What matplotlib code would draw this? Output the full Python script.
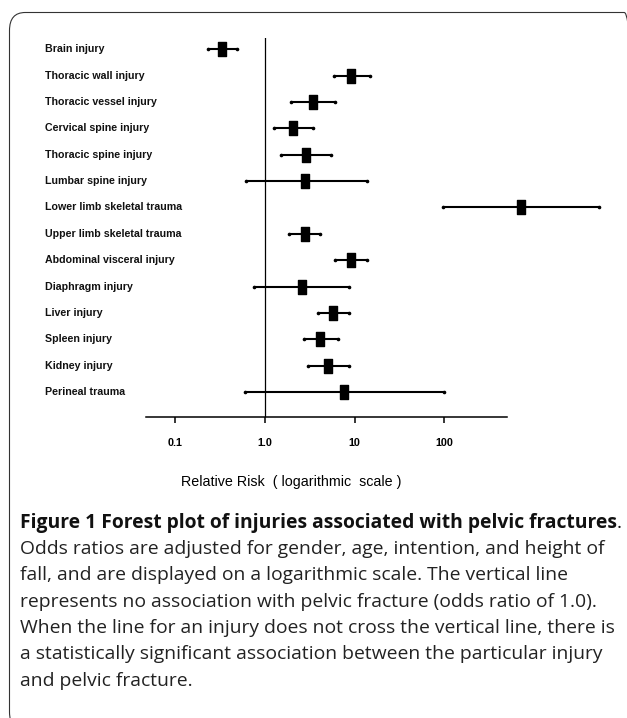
import numpy as np
import matplotlib
matplotlib.use("Agg")
from matplotlib import pyplot as plt
from matplotlib.path import Path
from matplotlib.patches import FancyBboxPatch
from matplotlib.transforms import blended_transform_factory

injuries = ["Brain injury", "Thoracic wall injury", "Thoracic vessel injury",
            "Cervical spine injury", "Thoracic spine injury", "Lumbar spine injury",
            "Lower limb skeletal trauma", "Upper limb skeletal trauma",
            "Abdominal visceral injury", "Diaphragm injury", "Liver injury",
            "Spleen injury", "Kidney injury", "Perineal trauma"]
odds = [0.33, 9.2, 3.45, 2.07, 2.87, 2.78, 728, 2.78, 9.0, 2.56, 5.75, 4.1, 5.1, 7.6]
ci_low = [0.23, 5.9, 1.95, 1.27, 1.51, 0.62, 98, 1.87, 6.0, 0.75, 3.9, 2.7, 3.0, 0.6]
ci_high = [0.49, 14.8, 6.1, 3.45, 5.5, 13.6, 5400, 4.15, 13.9, 8.75, 8.75, 6.6, 8.75, 100]
tick_vals = [0.1, 1, 10, 100]
tick_text = ["0.1", "1.0", "10", "100"]

caption_title = "Figure 1 Forest plot of injuries associated with pelvic fractures"
caption_lines = [
    "Odds ratios are adjusted for gender, age, intention, and height of",
    "fall, and are displayed on a logarithmic scale. The vertical line",
    "represents no association with pelvic fracture (odds ratio of 1.0).",
    "When the line for an injury does not cross the vertical line, there is",
    "a statistically significant association between the particular injury",
    "and pelvic fracture.",
]

W, H = 627, 718
fig = plt.figure(figsize=(W / 100, H / 100), dpi=100)

def fx(px):
    return px / W

def fy(py):
    return 1 - py / H

# outer rounded frame, runs off the right and bottom edges
frame = FancyBboxPatch((fx(9.5), fy(730)), fx(640) - fx(9.5), fy(12.5) - fy(730),
                       boxstyle="round,pad=0,rounding_size=0.025",
                       transform=fig.transFigure, fill=False,
                       edgecolor="#333333", linewidth=0.8)
fig.patches.append(frame)

# axes: x from 146 to 507 px, y from 38 to 417 px
ax = fig.add_axes([fx(146), fy(417), fx(507) - fx(146), fy(38) - fy(417)])
ax.set_xscale("log")
ax.set_xlim(10 ** ((146 - 265) / 89.6), 10 ** ((507 - 265) / 89.6))
ax.set_ylim(13.95, -0.43)
for s in ["top", "right", "left"]:
    ax.spines[s].set_visible(False)
ax.spines["bottom"].set_linewidth(1.1)
ax.set_yticks([])
ax.set_xticks(tick_vals)
ax.set_xticklabels(tick_text, fontfamily="Liberation Sans", fontweight="bold", fontsize=7.8)
ax.xaxis.set_minor_locator(matplotlib.ticker.NullLocator())
ax.tick_params(axis="x", length=4, width=1.1, pad=11)
ax.patch.set_visible(False)

ax.axvline(1, color="black", linewidth=0.9)

rect = Path([[-0.32, -0.5], [0.32, -0.5], [0.32, 0.5], [-0.32, 0.5], [-0.32, -0.5]],
            [Path.MOVETO, Path.LINETO, Path.LINETO, Path.LINETO, Path.CLOSEPOLY])

ys = np.arange(len(injuries))
for i in range(len(injuries)):
    ax.plot([ci_low[i], ci_high[i]], [ys[i], ys[i]], color="black", linewidth=1.5,
            clip_on=False, solid_capstyle="butt")
    ax.plot([ci_low[i], ci_high[i]], [ys[i], ys[i]], linestyle="none", marker="o",
            markersize=1.6, color="black", clip_on=False)
ax.plot(odds, ys, linestyle="none", marker=rect, markersize=9.5, color="black", clip_on=False)

tr = blended_transform_factory(fig.transFigure, ax.transData)
for i, name in enumerate(injuries):
    ax.text(fx(45), ys[i], name, transform=tr, ha="left", va="center",
            fontfamily="Liberation Sans", fontweight="bold", fontsize=7.7, color="#111111")

fig.text(fx(291), fy(482), "Relative Risk  ( logarithmic  scale )", ha="center", va="center",
         fontfamily="Liberation Sans", fontsize=10.3)

# caption
t = fig.text(fx(20), fy(523), caption_title, ha="left", va="center",
             fontfamily="Open Sans", fontweight="bold", fontsize=13.9, color="#111111")
fig.canvas.draw()
bb = t.get_window_extent()
fig.text(bb.x1 / W, fy(523), ".", ha="left", va="center",
         fontfamily="Open Sans", fontsize=13.9, color="#111111")
y0 = 549
for k, line in enumerate(caption_lines):
    fig.text(fx(20), fy(y0 + 26.3 * k), line, ha="left", va="center",
             fontfamily="Open Sans", fontsize=13.9, color="#222222")

fig.savefig("out.png", dpi=100)
